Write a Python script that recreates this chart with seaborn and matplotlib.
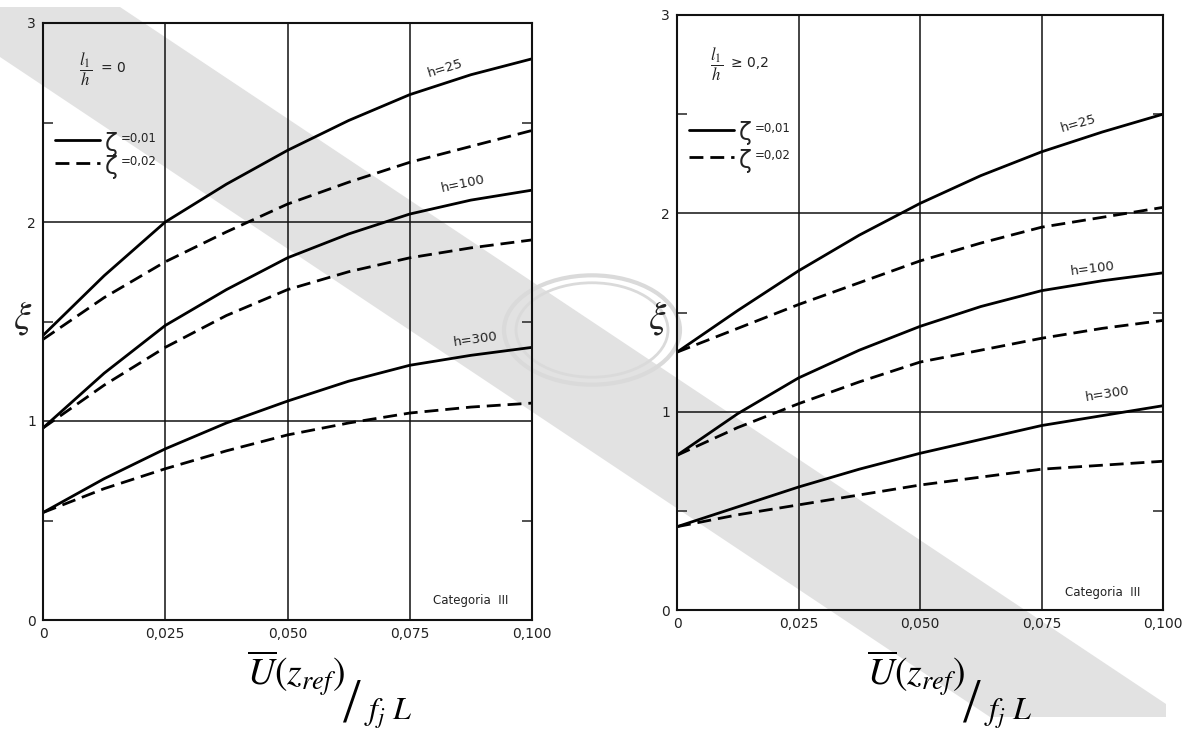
import numpy as np
import pandas as pd
import matplotlib
matplotlib.use("Agg")
import matplotlib.pyplot as plt
import seaborn as sns
from matplotlib.patches import Polygon, Circle
from matplotlib.lines import Line2D

# ---------------- data ----------------
x_vals = [0.0, 0.0125, 0.025, 0.0375, 0.05, 0.0625, 0.075, 0.0875, 0.1]
x_ticks = [0.0, 0.025, 0.05, 0.075, 0.1]
x_tick_labels = ["0", "0,025", "0,050", "0,075", "0,100"]
y_ticks = [0, 1, 2, 3]
y_tick_labels = ["0", "1", "2", "3"]
zeta_labels = ["=0,01", "=0,02"]

# left panel  (l1/h = 0)
left_h25_z001 = [1.43, 1.73, 2.00, 2.19, 2.36, 2.51, 2.64, 2.74, 2.82]
left_h25_z002 = [1.41, 1.62, 1.80, 1.95, 2.09, 2.20, 2.30, 2.38, 2.46]
left_h100_z001 = [0.965, 1.24, 1.48, 1.66, 1.82, 1.94, 2.04, 2.11, 2.16]
left_h100_z002 = [0.965, 1.18, 1.37, 1.53, 1.66, 1.75, 1.82, 1.87, 1.91]
left_h300_z001 = [0.54, 0.71, 0.86, 0.99, 1.10, 1.20, 1.28, 1.33, 1.37]
left_h300_z002 = [0.54, 0.66, 0.76, 0.85, 0.93, 0.99, 1.04, 1.07, 1.09]

# right panel  (l1/h >= 0,2)
right_h25_z001 = [1.30, 1.51, 1.71, 1.89, 2.05, 2.19, 2.31, 2.41, 2.50]
right_h25_z002 = [1.30, 1.42, 1.54, 1.65, 1.76, 1.85, 1.93, 1.98, 2.03]
right_h100_z001 = [0.78, 0.99, 1.17, 1.31, 1.43, 1.53, 1.61, 1.66, 1.70]
right_h100_z002 = [0.78, 0.92, 1.04, 1.15, 1.25, 1.31, 1.37, 1.42, 1.46]
right_h300_z001 = [0.42, 0.52, 0.62, 0.71, 0.79, 0.86, 0.93, 0.98, 1.03]
right_h300_z002 = [0.42, 0.48, 0.53, 0.58, 0.63, 0.67, 0.71, 0.73, 0.75]

left_series = {
    ("h=25", "0,01"): left_h25_z001, ("h=25", "0,02"): left_h25_z002,
    ("h=100", "0,01"): left_h100_z001, ("h=100", "0,02"): left_h100_z002,
    ("h=300", "0,01"): left_h300_z001, ("h=300", "0,02"): left_h300_z002,
}
right_series = {
    ("h=25", "0,01"): right_h25_z001, ("h=25", "0,02"): right_h25_z002,
    ("h=100", "0,01"): right_h100_z001, ("h=100", "0,02"): right_h100_z002,
    ("h=300", "0,01"): right_h300_z001, ("h=300", "0,02"): right_h300_z002,
}

def to_df(series):
    rows = []
    for (h, z), ys in series.items():
        for xv, yv in zip(x_vals, ys):
            rows.append({"x": xv, "y": yv, "h": h, "zeta": z})
    return pd.DataFrame(rows)

# ---------------- style ----------------
sns.set_theme(style="white")
plt.rcParams["font.family"] = ["DejaVu Sans"]
plt.rcParams["mathtext.fontset"] = "stix"

W, H = 1188, 738
fig = plt.figure(figsize=(W / 100, H / 100), dpi=100)
fig.patch.set_facecolor("white")

def px(xp, yp):
    return xp / W, 1 - yp / H

# watermark band (behind everything)
band = [(0, 7), (120, 7), (1166, 704), (1166, 717), (990, 717), (0, 57)]
band_fig = [px(a, b) for a, b in band]
fig.patches.append(Polygon(band_fig, closed=True, transform=fig.transFigure,
                           facecolor="#e2e2e2", edgecolor="none", zorder=-10))
cx, cy = px(592, 330)
for r, lw in [(88, 3.0), (76, 2.0)]:
    fig.patches.append(Circle((cx, cy), r / W, transform=fig.transFigure,
                              facecolor="none", edgecolor="#dadada", lw=lw,
                              zorder=-9))

ax_l = fig.add_axes([43 / W, 1 - 620 / H, 489 / W, 597 / H])
ax_r = fig.add_axes([677 / W, 1 - 610 / H, 486 / W, 595 / H])

dash = (5, 2.5)

def draw_panel(ax, series, ratio_pos, ratio_rhs, legend_y, labels_pos, cat_pos):
    df = to_df(series)
    ax.set_facecolor("none")
    for (h, z), sub in df.groupby(["h", "zeta"]):
        sns.lineplot(data=sub, x="x", y="y", ax=ax, color="black",
                     lw=2.0, estimator=None, sort=True,
                     dashes=False, legend=False,
                     linestyle="-" if z == "0,01" else (0, dash))
    ax.set_xlim(0, 0.1)
    ax.set_ylim(0, 3)
    ax.set_xticks(x_ticks)
    ax.set_xticklabels(x_tick_labels)
    ax.set_yticks(y_ticks)
    ax.set_yticklabels(y_tick_labels)
    ax.set_yticks([0.5, 1.5, 2.5], minor=True)
    ax.tick_params(axis="both", which="major", length=0, labelsize=10,
                   colors="#222222", pad=5)
    ax.tick_params(axis="y", which="minor", direction="in", length=7,
                   width=1.2, color="#333333", left=True, right=True)
    ax.grid(True, which="major", color="#111111", lw=1.1)
    for s in ax.spines.values():
        s.set_visible(True)
        s.set_color("#111111")
        s.set_linewidth(1.5)
    ax.set_xlabel("")
    ax.set_ylabel("")
    # hand-made legend: line, large zeta, small value
    styles = ["-", (0, dash)]
    for i, (ly, lab) in enumerate(zip(legend_y, zeta_labels)):
        ax.add_line(Line2D([0.025, 0.117], [ly, ly], transform=ax.transAxes,
                           color="black", lw=2.0, ls=styles[i]))
        ax.text(0.127, ly - 0.006, "ζ", transform=ax.transAxes,
                fontsize=17, ha="left", va="center", color="#222222")
        ax.text(0.160, ly + 0.003, lab, transform=ax.transAxes,
                fontsize=8.5, ha="left", va="center", color="#222222")
    # l1/h fraction
    ax.text(ratio_pos[0], ratio_pos[1],
            r"$\dfrac{l_1}{h}$", transform=ax.transAxes,
            fontsize=12, ha="center", va="center", color="#222222")
    ax.text(ratio_pos[0] + 0.03, ratio_pos[1] + 0.002, ratio_rhs,
            transform=ax.transAxes, fontsize=10, ha="left", va="center",
            color="#222222")
    for (lab, xl, yl, rot) in labels_pos:
        ax.text(xl, yl, lab, fontsize=9.5, rotation=rot, ha="center",
                va="center", color="#222222", rotation_mode="anchor")
    ax.text(cat_pos[0], cat_pos[1], "Categoria  III", fontsize=8.5,
            ha="center", va="center", color="#222222")

draw_panel(ax_l, left_series, (0.088, 0.922), "= 0", (0.804, 0.765),
           [("h=25", 0.0822, 2.77, 17), ("h=100", 0.0859, 2.19, 12),
            ("h=300", 0.0885, 1.41, 8)],
           (0.0875, 0.10))
draw_panel(ax_r, right_series, (0.082, 0.918), "≥ 0,2", (0.807, 0.761),
           [("h=25", 0.0825, 2.45, 16), ("h=100", 0.0856, 1.72, 7),
            ("h=300", 0.0885, 1.09, 9)],
           (0.0875, 0.09))

# y labels (xi)
for (xp, yp) in [(23, 318), (658, 318)]:
    fx, fy = px(xp, yp)
    fig.text(fx, fy, r"$\xi$", fontsize=28, ha="center", va="center",
             color="#222222")

# x labels
for off in [0, 620]:
    fx, fy = px(345 + off, 685)
    fig.text(fx, fy, r"$\overline{U}\left(z_{ref}\right)$", fontsize=27,
             ha="right", va="baseline", color="black")
    fx, fy = px(343 + off, 722)
    fig.text(fx, fy, "/", fontsize=46, ha="left", va="baseline",
             color="black", family="Liberation Serif")
    fx, fy = px(364 + off, 720)
    fig.text(fx, fy, r"$f_j\ L$", fontsize=23, ha="left", va="baseline",
             color="black")

fig.savefig("out.png", dpi=100, facecolor="white")
